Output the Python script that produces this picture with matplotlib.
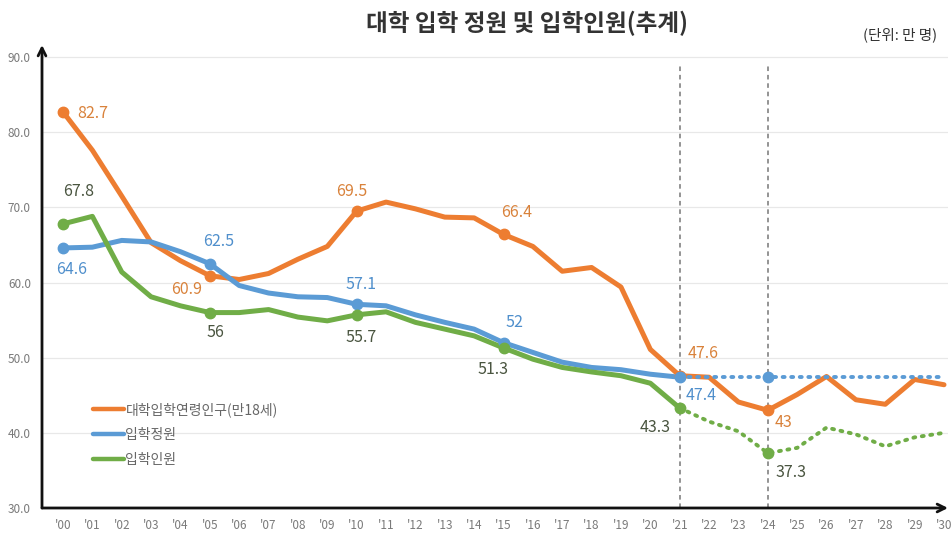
import matplotlib
matplotlib.use("Agg")
import matplotlib.pyplot as plt

plt.rcParams['font.family'] = ['Noto Sans CJK KR', 'DejaVu Sans']

# ---- data (단위: 만 명) ----
years = list(range(2000, 2031))
year_labels = ["'" + str(y)[2:] for y in years]

# 대학입학연령인구(만18세), 2000-2030
population = [82.7, 77.6, 71.5, 65.3, 62.9, 60.9, 60.4, 61.2, 63.1, 64.8,
              69.5, 70.7, 69.8, 68.7, 68.6, 66.4, 64.8, 61.5, 62.0, 59.4,
              51.1, 47.6, 47.4, 44.1, 43.0, 45.1, 47.5, 44.4, 43.8, 47.1,
              46.4]

# 입학정원: 실적 2000-2021, 추계 2021-2030
quota_actual = [64.6, 64.7, 65.6, 65.4, 64.1, 62.5, 59.6, 58.6, 58.1, 58.0,
                57.1, 56.9, 55.7, 54.7, 53.8, 52.0, 50.7, 49.4, 48.7, 48.4,
                47.8, 47.4]
quota_proj = [47.4, 47.4, 47.4, 47.4, 47.4, 47.4, 47.4, 47.4, 47.4, 47.4]

# 입학인원: 실적 2000-2021, 추계 2021-2030
enroll_actual = [67.8, 68.8, 61.4, 58.1, 56.9, 56.0, 56.0, 56.4, 55.4, 54.9,
                 55.7, 56.1, 54.7, 53.8, 52.9, 51.3, 49.8, 48.7, 48.1, 47.6,
                 46.6, 43.3]
enroll_proj = [43.3, 41.5, 40.2, 37.3, 38.0, 40.7, 39.8, 38.2, 39.4, 40.0]

marked_years = [2000, 2005, 2010, 2015, 2021, 2024]
divider_years = [2021, 2024]
yticks = [30, 40, 50, 60, 70, 80, 90]

labels = ['대학입학연령인구(만18세)', '입학정원', '입학인원']
c_orange, c_blue, c_green = '#ED7D31', '#5B9BD5', '#70AD47'
t_orange, t_blue, t_dark = '#D9823B', '#4F8FCC', '#4A5540'

# ---- figure ----
fig = plt.figure(figsize=(9.51, 5.39), dpi=100)
ax = fig.add_axes([42 / 951, 31 / 539, 906 / 951, 463 / 539])
x0 = years[0]
ax.set_xlim(x0 - 0.715, x0 + 30.136)
ax.set_ylim(30, 91.6)

for s in ax.spines.values():
    s.set_visible(False)

# grid
for v in yticks[1:]:
    ax.axhline(v, color='#e8e8e8', lw=0.9, zorder=0)

# divider lines
for yv in divider_years:
    ax.plot([yv, yv], [30, 89.2], color='#777777', lw=1.1,
            ls=(0, (3, 2.5)), zorder=1)

# series
yrs_a = years[:22]
yrs_p = years[21:]
ax.plot(years, population, color=c_orange, lw=3.6, solid_joinstyle='round',
        solid_capstyle='round', zorder=3, label=labels[0])
ax.plot(yrs_a, quota_actual, color=c_blue, lw=3.6, solid_joinstyle='round',
        solid_capstyle='round', zorder=4, label=labels[1])
ax.plot(yrs_p, quota_proj, color=c_blue, lw=2.8, ls=(0, (0.5, 1.7)),
        dash_capstyle='round', zorder=4)
ax.plot(yrs_a, enroll_actual, color=c_green, lw=3.6, solid_joinstyle='round',
        solid_capstyle='round', zorder=5, label=labels[2])
ax.plot(yrs_p, enroll_proj, color=c_green, lw=2.8, ls=(0, (0.5, 1.7)),
        dash_capstyle='round', zorder=5)

def value_at(yr, actual, proj):
    i = years.index(yr)
    return actual[i] if i < len(actual) else proj[i - 21]

for yr in marked_years:
    ax.plot(yr, population[years.index(yr)], 'o', color=c_orange, ms=7.5, zorder=6)
    ax.plot(yr, value_at(yr, quota_actual, quota_proj), 'o', color=c_blue, ms=7.5, zorder=6)
    ax.plot(yr, value_at(yr, enroll_actual, enroll_proj), 'o', color=c_green, ms=7.5, zorder=7)

# value labels: (year, series, offset in px)
fs_val = 11.5
def label(yr, series, col, dx, dy, ha='center'):
    v = series[yr]
    txt = f'{v:g}'
    ax.annotate(txt, (yr, v), xytext=(dx, dy), textcoords='offset pixels',
                ha=ha, va='center', color=col, fontsize=fs_val, zorder=8)

pop_d = dict(zip(years, population))
quota_d = {y: value_at(y, quota_actual, quota_proj) for y in years}
enroll_d = {y: value_at(y, enroll_actual, enroll_proj) for y in years}

label(2000, pop_d, t_orange, 30, -2)
label(2005, pop_d, t_orange, -23, -14)
label(2010, pop_d, t_orange, -5, 20)
label(2015, pop_d, t_orange, 13, 22)
label(2021, pop_d, t_orange, 23, 22)
label(2024, pop_d, t_orange, 16, -12)

label(2000, quota_d, t_blue, 9, -22)
label(2005, quota_d, t_blue, 9, 22)
label(2010, quota_d, t_blue, 4, 20)
label(2015, quota_d, t_blue, 11, 20)
label(2021, quota_d, t_blue, 21, -18)

label(2000, enroll_d, t_dark, 16, 32)
label(2005, enroll_d, t_dark, 6, -20)
label(2010, enroll_d, t_dark, 4, -23)
label(2015, enroll_d, t_dark, -11, -22)
label(2021, enroll_d, t_dark, -25, -19)
label(2024, enroll_d, t_dark, 23, -19)

# ticks
ax.set_xticks(years)
ax.set_xticklabels(year_labels)
ax.set_yticks(yticks)
ax.set_yticklabels([f'{v:.1f}' for v in yticks])
ax.tick_params(axis='both', length=0, colors='#7a7a7a', labelsize=8.5)
ax.tick_params(axis='x', pad=8)
ax.tick_params(axis='y', pad=8)

# axes with arrow heads
arrow = dict(arrowstyle='->', lw=2.0, color='#111111',
             shrinkA=0, shrinkB=0, mutation_scale=14)
ax.annotate('', xy=(0, 1), xytext=(0, 0), xycoords='axes fraction',
            arrowprops=arrow, annotation_clip=False)
ax.annotate('', xy=(1, 0), xytext=(0, 0), xycoords='axes fraction',
            arrowprops=arrow, annotation_clip=False)

# legend
leg = ax.legend(loc='upper left', bbox_to_anchor=(0.043, 0.255), frameon=False,
                fontsize=10, handlelength=2.2, handletextpad=0.1,
                labelspacing=0.78)
for t in leg.get_texts():
    t.set_color('#666666')
for h in leg.get_lines():
    h.set_linewidth(3.2)

# titles
fig.text(527 / 951, 1 - 23 / 539, '대학 입학 정원 및 입학인원(추계)',
         ha='center', va='center', fontsize=17, fontweight='bold', color='#333333')
fig.text(900 / 951, 1 - 35 / 539, '(단위: 만 명)', ha='center', va='center',
         fontsize=10.5, color='#333333')

fig.savefig('out.png', dpi=100)
